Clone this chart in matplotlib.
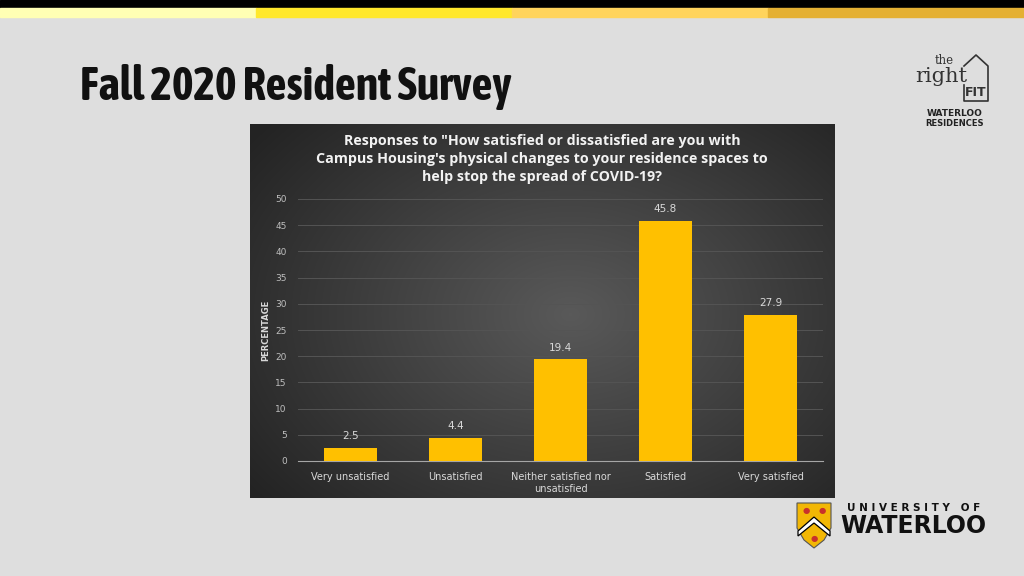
import numpy as np
import matplotlib.pyplot as plt
from matplotlib import font_manager
from matplotlib.patches import Rectangle, Polygon

# Survey data
categories = ['Very unsatisfied', 'Unsatisfied', 'Neither satisfied nor\nunsatisfied',
              'Satisfied', 'Very satisfied']
percentages = [2.5, 4.4, 19.4, 45.8, 27.9]
y_ticks = [0, 5, 10, 15, 20, 25, 30, 35, 40, 45, 50]

# look for a condensed bold font for the slide title
narrow_bold = sorted({f.name for f in font_manager.fontManager.ttflist
                      if ('Narrow' in f.name or 'Condensed' in f.name)
                      and f.weight in (600, 700, 800, 900, 'bold', 'heavy', 'black')})
title_family = narrow_bold[0] if narrow_bold else 'Roboto'

W, H = 1024, 576
fig = plt.figure(figsize=(10.24, 5.76), dpi=100)
fig.patch.set_facecolor('#dedede')


def fx(px):
    return px / W


def fy(py):
    return 1 - py / H


# top bar: black band and four yellow stripes
fig.patches.append(Rectangle((0, fy(8)), 1, 8 / H, transform=fig.transFigure,
                             color='black', zorder=0))
stripe_colors = ['#ffffb4', '#ffe82c', '#ffd45c', '#e4b033']
for i, c in enumerate(stripe_colors):
    fig.patches.append(Rectangle((fx(256 * i), fy(17)), 256 / W, 9 / H,
                                 transform=fig.transFigure, color=c, zorder=0))

# slide title, sized to span roughly the same width as the original
t = fig.text(fx(80), fy(87), 'Fall 2020 Resident Survey', fontsize=30, fontweight='bold',
             family=[title_family, 'DejaVu Sans'], color='#111111', va='center')
fig.canvas.draw()
bb = t.get_window_extent()
t.set_fontsize(min(33, 30 * 445 / bb.width))

# chart panel with radial gradient
bg = fig.add_axes([fx(250), fy(498), 585 / W, 374 / H])
yy, xx = np.mgrid[0:374, 0:585]
d = np.sqrt(((xx - 320) / 420) ** 2 + ((yy - 190) / 300) ** 2)
shade = np.clip(0.35 - 0.22 * d, 0.14, 0.35)
bg.imshow(np.dstack([shade] * 3), aspect='auto', extent=[0, 1, 0, 1])
bg.set_axis_off()

# chart title
fig.text(fx(542), fy(159),
         'Responses to "How satisfied or dissatisfied are you with\n'
         "Campus Housing's physical changes to your residence spaces to\n"
         'help stop the spread of COVID-19?',
         ha='center', va='center', fontsize=10.3, fontweight='bold', color='#f2f2f2',
         family='Open Sans', linespacing=1.35)

# bar chart
ax = fig.add_axes([fx(298), fy(461), 525 / W, 262 / H])
ax.patch.set_alpha(0)
x = np.arange(len(categories))
bars = ax.bar(x, percentages, width=0.5, color='#ffc000', zorder=3)
ax.set_xlim(-0.5, len(categories) - 0.5)
ax.set_ylim(0, 50)
ax.set_yticks(y_ticks)
ax.set_yticklabels([str(t) for t in y_ticks], fontsize=6.5, color='#bfbfbf')
ax.set_xticks(x)
ax.set_xticklabels(categories, fontsize=7, color='#d9d9d9')
ax.tick_params(length=0)
ax.tick_params(axis='y', pad=8)
ax.tick_params(axis='x', pad=8)
ax.grid(axis='y', color='#545454', linewidth=0.7, zorder=0)
for s in ['top', 'right', 'left']:
    ax.spines[s].set_visible(False)
ax.spines['bottom'].set_color('#a6a6a6')
for b, v in zip(bars, percentages):
    ax.text(b.get_x() + b.get_width() / 2, v + 1.3, str(v), ha='center', va='bottom',
            fontsize=7.5, color='#d9d9d9')
ax.set_ylabel('PERCENTAGE', fontsize=6, fontweight='bold', color='#d9d9d9', labelpad=4)

# "the right FIT" logo
fig.text(fx(944), fy(60), 'the', fontsize=8.5, family='DejaVu Serif', color='#333333',
         ha='center', va='center')
fig.text(fx(941), fy(77), 'right', fontsize=15, family='DejaVu Serif', color='#333333',
         ha='center', va='center')
fig.text(fx(976), fy(93), 'FIT', fontsize=9, fontweight='bold', color='#333333',
         ha='center', va='center')
house = [(fx(964), fy(66)), (fx(976), fy(55)), (fx(988), fy(66)),
         (fx(988), fy(101)), (fx(964), fy(101)), (fx(964), fy(85))]
fig.lines.append(plt.Line2D([p[0] for p in house], [p[1] for p in house],
                            transform=fig.transFigure, color='#333333', linewidth=1.2))
fig.text(fx(955), fy(114), 'WATERLOO', fontsize=6.5, fontweight='bold', color='#222222',
         ha='center', va='center')
fig.text(fx(955), fy(123), 'RESIDENCES', fontsize=6, fontweight='bold', color='#222222',
         ha='center', va='center')

# University of Waterloo logo
shield = Polygon([(fx(797), fy(503)), (fx(831), fy(503)), (fx(831), fy(528)),
                  (fx(824), fy(540)), (fx(814), fy(548)), (fx(804), fy(540)),
                  (fx(797), fy(528))], closed=True,
                 transform=fig.transFigure, facecolor='#f2b705', edgecolor='#555555',
                 linewidth=0.8)
fig.patches.append(shield)
chev = Polygon([(fx(798), fy(531)), (fx(814), fy(517)), (fx(830), fy(531)),
                (fx(830), fy(536)), (fx(814), fy(523)), (fx(798), fy(536))], closed=True,
               transform=fig.transFigure, facecolor='white', edgecolor='black', linewidth=0.9)
fig.patches.append(chev)
for (px, py) in [(806, 511), (822, 511), (814, 539)]:
    fig.text(fx(px), fy(py), '\u25cf', fontsize=6, color='#c8312b', ha='center', va='center')
fig.text(fx(914), fy(508), 'U N I V E R S I T Y   O F', fontsize=7.5, fontweight='bold',
         color='#111111', ha='center', va='center')
fig.text(fx(913), fy(526), 'WATERLOO', fontsize=17, fontweight='bold', color='#111111',
         ha='center', va='center')

fig.savefig('out.png', dpi=100, facecolor=fig.get_facecolor())
